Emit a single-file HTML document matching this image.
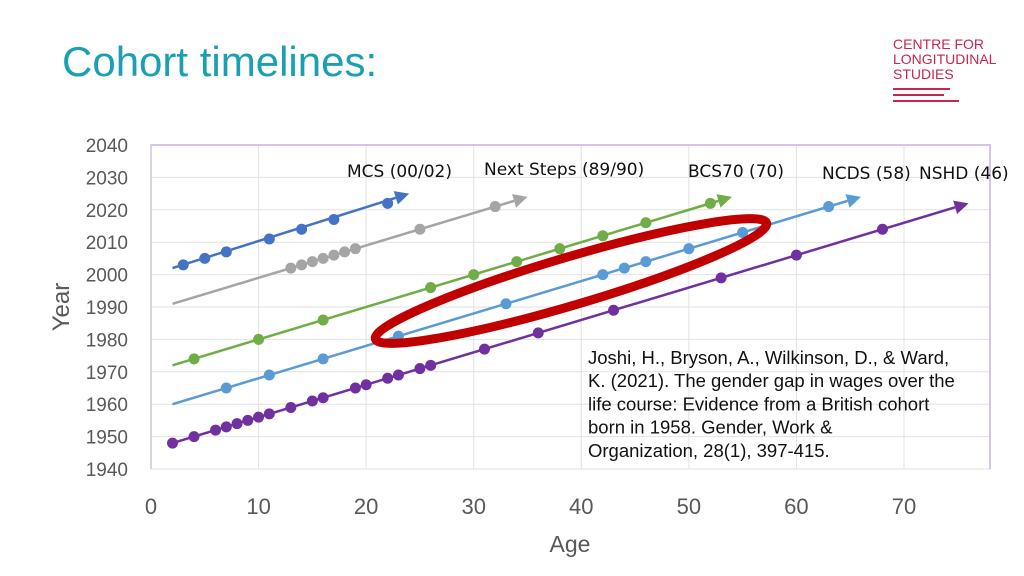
<!DOCTYPE html>
<html><head><meta charset="utf-8"><style>
body{margin:0;width:1024px;height:576px;background:#fff;overflow:hidden;font-family:"Liberation Sans",sans-serif;position:relative}
</style></head><body>
<div style="position:absolute;left:62px;top:38px;font-size:42px;color:#1b9fb3;">Cohort timelines:</div>
<div style="position:absolute;left:893px;top:37px;font-size:14px;line-height:15px;color:#c8254f;">CENTRE FOR<br>LONGITUDINAL<br>STUDIES
<div style="width:57px;height:2px;background:#c8254f;margin-top:6px"></div>
<div style="width:51px;height:2px;background:#c8254f;margin-top:4px"></div>
<div style="width:66px;height:2px;background:#c8254f;margin-top:4px"></div></div>
<svg id="chart" width="1024" height="576" style="position:absolute;left:0;top:0"></svg>
<script>
const xTicks=[0,10,20,30,40,50,60,70];
const yTicks=[1940,1950,1960,1970,1980,1990,2000,2010,2020,2030,2040];
const cohortNames=["NSHD","NCDS","BCS70","NextSteps","MCS"];
const colors=["#7030a0","#5b9bd5","#70ad47","#a5a5a5","#4472c4"];
const lineStartAge=[2,2,2,2,2];
const lineStartYear=[1948,1960,1972,1991,2002];
const arrowAge=[76,66,54,35,24];
const arrowYear=[2022,2024,2024,2024,2025];
const nshdAges=[2,4,6,7,8,9,10,11,13,15,16,19,20,22,23,25,26,31,36,43,53,60,68];
const nshdYears=[1948,1950,1952,1953,1954,1955,1956,1957,1959,1961,1962,1965,1966,1968,1969,1971,1972,1977,1982,1989,1999,2006,2014];
const ncdsAges=[7,11,16,23,33,42,44,46,50,55,63];
const ncdsYears=[1965,1969,1974,1981,1991,2000,2002,2004,2008,2013,2021];
const bcsAges=[4,10,16,26,30,34,38,42,46,52];
const bcsYears=[1974,1980,1986,1996,2000,2004,2008,2012,2016,2022];
const nsAges=[13,14,15,16,17,18,19,25,32];
const nsYears=[2002,2003,2004,2005,2006,2007,2008,2014,2021];
const mcsAges=[3,5,7,11,14,17,22];
const mcsYears=[2003,2005,2007,2011,2014,2017,2022];
const labels=["MCS (00/02)","Next Steps (89/90)","BCS70 (70)","NCDS (58)","NSHD (46)"];
const labelX=[347,484,688,822,919];
const labelY=[177,175,177,179,179];
const X=a=>151+a*(904-151)/70;
const Y=y=>469-(y-1940)*3.24;
const svg=document.getElementById('chart');const NS="http://www.w3.org/2000/svg";
function mk(t,at,p){const e=document.createElementNS(NS,t);for(const k in at)e.setAttribute(k,at[k]);(p||svg).appendChild(e);return e;}
let e;
yTicks.forEach(v=>{e=mk('line',{x1:151,x2:990,y1:Y(v),y2:Y(v),stroke:'#e2e2e2','stroke-width':1});

e=mk('text',{x:128,y:Y(v)+7,'text-anchor':'end','font-size':19,fill:'#595959','font-family':'Liberation Sans'});e.textContent=v;
});
xTicks.forEach(v=>{if(v>0){e=mk('line',{x1:X(v),x2:X(v),y1:145,y2:469,stroke:'#e2e2e2','stroke-width':1});
}
e=mk('text',{x:X(v),y:514,'text-anchor':'middle','font-size':22,fill:'#595959','font-family':'Liberation Sans'});e.textContent=v;
});
e=mk('path',{d:'M151 469 V145 H990 V469',fill:'none',stroke:'#c5b3dc','stroke-width':1.5});

e=mk('line',{x1:151,x2:151,y1:145,y2:469,stroke:'#d0d0d0'});

e=mk('text',{x:570,y:552,'text-anchor':'middle','font-size':23,fill:'#595959','font-family':'Liberation Sans'});e.textContent='Age';

e=mk('text',{x:0,y:0,transform:'translate(69,307) rotate(-90)','text-anchor':'middle','font-size':24,fill:'#595959','font-family':'Liberation Sans'});e.textContent='Year';

const ages=[nshdAges,ncdsAges,bcsAges,nsAges,mcsAges];
const years=[nshdYears,ncdsYears,bcsYears,nsYears,mcsYears];
for(let i=0;i<5;i++){
 const c=colors[i];
 const x1=X(lineStartAge[i]),y1=Y(lineStartYear[i]),x2=X(arrowAge[i]),y2=Y(arrowYear[i]);
 const ang=Math.atan2(y2-y1,x2-x1);const bx=x2-14*Math.cos(ang),by=y2-14*Math.sin(ang);
 e=mk('line',{x1:x1,y1:y1,x2:bx,y2:by,stroke:c,'stroke-width':2.5});
 
 const px=-Math.sin(ang)*7,py=Math.cos(ang)*7;
 e=mk('polygon',{points:`${x2},${y2} ${bx+px},${by+py} ${bx-px},${by-py}`,fill:c});
 
 ages[i].forEach((a,j)=>{e=mk('circle',{cx:X(a),cy:Y(years[i][j]),r:5.5,fill:c});
 });
}
labels.forEach((l,i)=>{e=mk('text',{x:labelX[i],y:labelY[i],'font-size':17,fill:'#111','font-family':'DejaVu Sans'});e.textContent=l;
});
e=mk('ellipse',{cx:571,cy:281,rx:204,ry:24,transform:'rotate(-16.5 571 281)',fill:'none',stroke:'#c00000','stroke-width':9});

const cite=["Joshi, H., Bryson, A., Wilkinson, D., & Ward,","K. (2021). The gender gap in wages over the","life course: Evidence from a British cohort","born in 1958. Gender, Work &","Organization, 28(1), 397-415."];
cite.forEach((t,i)=>{e=mk('text',{x:588,y:364+i*23.2,'font-size':18.5,fill:'#111','font-family':'Liberation Sans'});e.textContent=t;
});
</script>
</body></html>
